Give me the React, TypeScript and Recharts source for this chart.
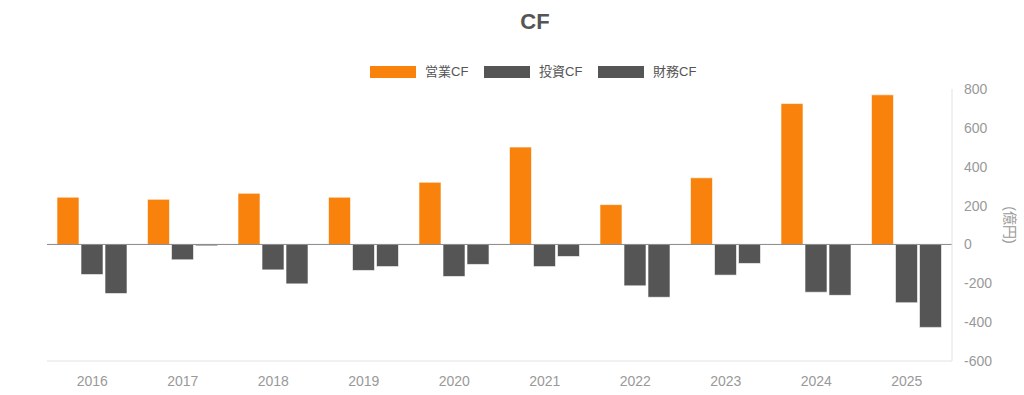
import { BarChart, Bar, XAxis, YAxis, ReferenceLine, Label } from "recharts";

const years = ["2016", "2017", "2018", "2019", "2020", "2021", "2022", "2023", "2024", "2025"];
const operatingCF = [243, 232, 263, 243, 320, 501, 205, 343, 725, 770];
const investingCF = [-155, -79, -131, -134, -165, -114, -213, -158, -246, -300];
const financingCF = [-253, -7, -203, -114, -103, -62, -272, -98, -262, -427];
const yTicks = [-600, -400, -200, 0, 200, 400, 600, 800];

const seriesNames = ["営業CF", "投資CF", "財務CF"];
const seriesColors = ["#f8820b", "#555555", "#555555"];
const seriesKeys = ["op", "inv", "fin"];

const data = years.map((y, i) => ({
  year: y,
  op: operatingCF[i],
  inv: investingCF[i],
  fin: financingCF[i],
}));

const FONT = '"Liberation Sans", Arial, "Noto Sans CJK JP", sans-serif';

function UnitLabel(props: any) {
  const { viewBox } = props;
  const x = viewBox.x + 58;
  const y = viewBox.y + viewBox.height / 2;
  return (
    <text
      x={x}
      y={y}
      transform={`rotate(90 ${x} ${y})`}
      textAnchor="middle"
      dominantBaseline="central"
      fill="#999"
      fontSize={14}
      fontFamily={FONT}
    >
      (億円)
    </text>
  );
}

export default function App() {
  return (
    <div
      style={{
        position: "absolute",
        left: 0,
        top: 0,
        width: 1024,
        height: 395,
        background: "#fff",
        fontFamily: FONT,
      }}
    >
      <div
        style={{
          position: "absolute",
          left: 0,
          width: 1070,
          top: 9,
          textAlign: "center",
          fontSize: 22,
          fontWeight: "bold",
          color: "#555",
        }}
      >
        CF
      </div>
      {/* legend */}
      <div style={{ position: "absolute", left: 370, top: 66, height: 12, display: "flex" }}>
        {seriesNames.map((name, i) => (
          <div key={name} style={{ display: "flex", alignItems: "center", width: 114, height: 12 }}>
            <div style={{ width: 46, height: 12, background: seriesColors[i], marginRight: 9, flexShrink: 0 }} />
            <span style={{ fontSize: 13, color: "#555", lineHeight: "12px" }}>{name}</span>
          </div>
        ))}
      </div>
      <BarChart
        width={1024}
        height={395}
        data={data}
        margin={{ top: 89, right: 0, bottom: 0, left: 47 }}
        barSize={22}
        barGap={2}
      >
        <XAxis
          dataKey="year"
          height={34}
          tickLine={false}
          axisLine={{ stroke: "#e2e2e2" }}
          tick={{ fill: "#999", fontSize: 14, fontFamily: FONT }}
          tickMargin={9}
        />
        <YAxis
          orientation="right"
          width={72}
          domain={[-600, 800]}
          ticks={yTicks}
          interval={0}
          tickLine={false}
          axisLine={{ stroke: "#e2e2e2" }}
          tick={{ fill: "#999", fontSize: 14, fontFamily: FONT }}
          tickMargin={6}
        >
          <Label content={<UnitLabel />} />
        </YAxis>
        <ReferenceLine y={0} stroke="#888" strokeWidth={1} />
        {seriesKeys.map((k, i) => (
          <Bar
            key={k}
            dataKey={k}
            name={seriesNames[i]}
            fill={seriesColors[i]}
            stroke="#ffffff"
            strokeOpacity={0.6}
            strokeWidth={1}
            isAnimationActive={false}
          />
        ))}
      </BarChart>
    </div>
  );
}
